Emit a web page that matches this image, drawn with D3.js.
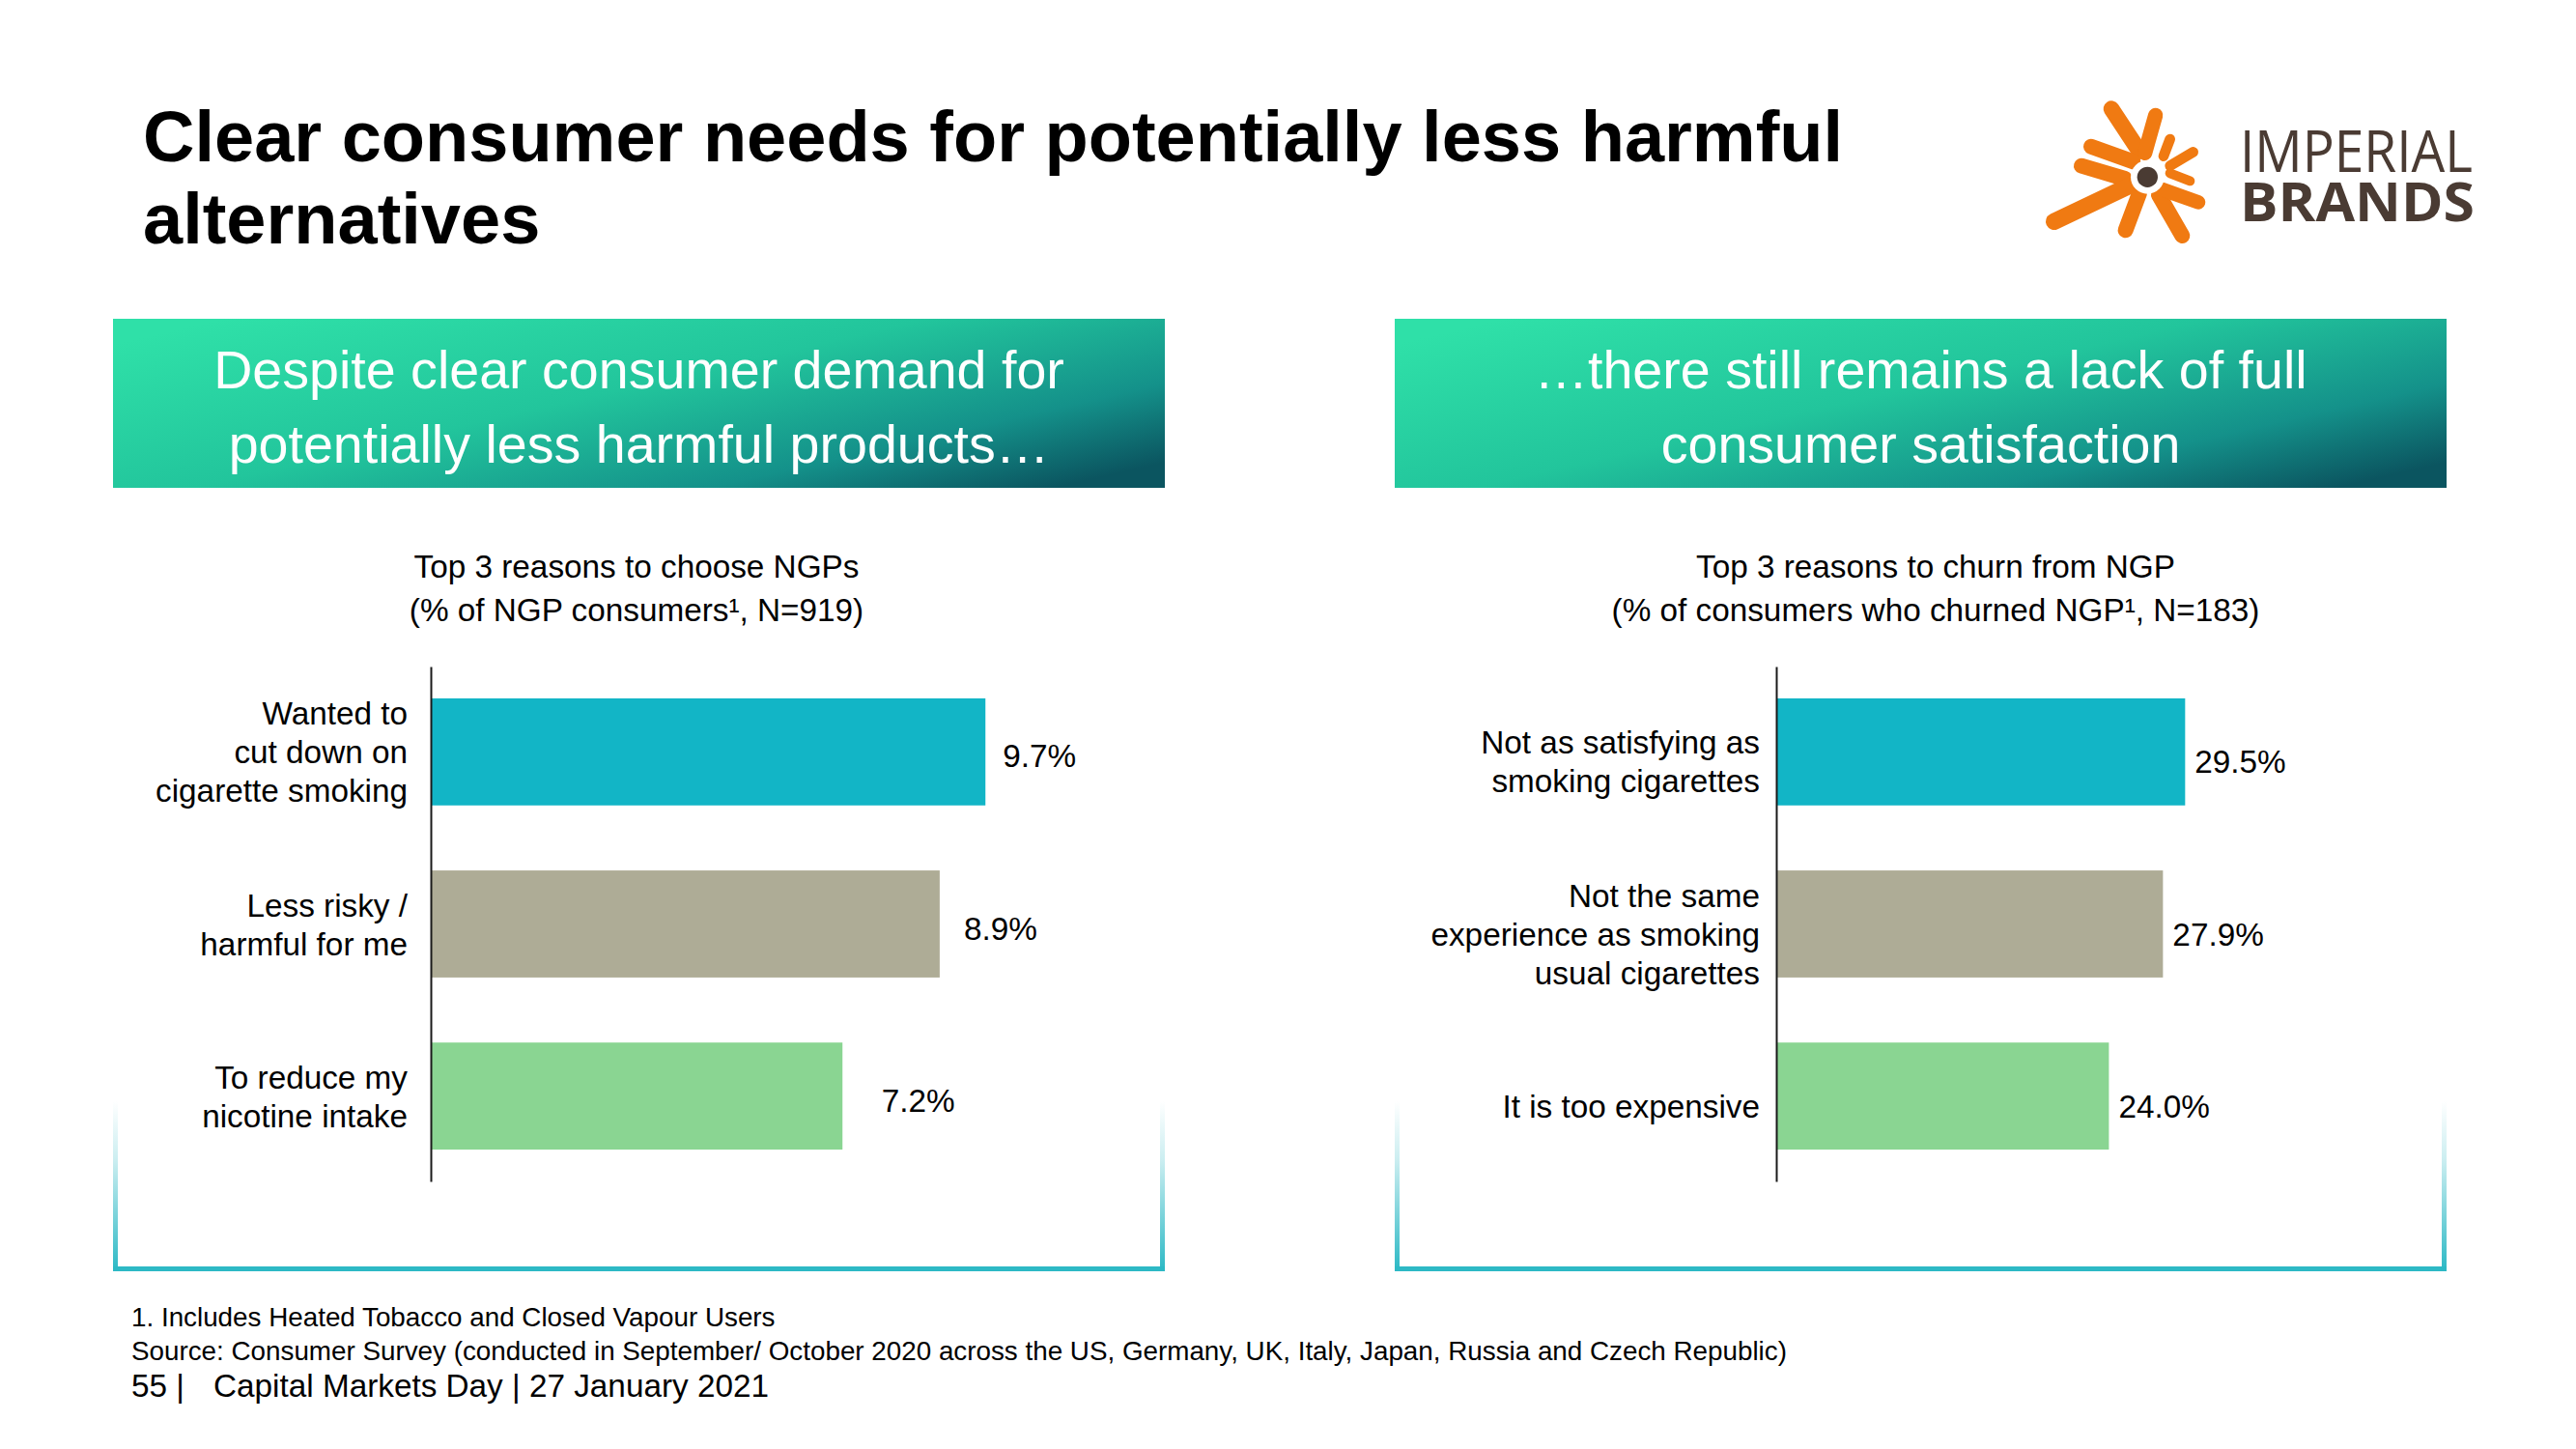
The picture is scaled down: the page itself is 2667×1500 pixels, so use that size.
<!DOCTYPE html>
<html>
<head>
<meta charset="utf-8">
<script src="https://cdn.jsdelivr.net/npm/d3@7"></script>
<style>
  html, body { margin: 0; padding: 0; background: #ffffff; }
  svg { display: block; }
  text { font-family: "Liberation Sans", Arial, Helvetica, sans-serif; }
</style>
</head>
<body>
<script>
// ---------------- DATA ----------------
const titleLines = ["Clear consumer needs for potentially less harmful", "alternatives"];
const leftHeader = ["Despite clear consumer demand for", "potentially less harmful products\u2026"];
const rightHeader = ["\u2026there still remains a lack of full", "consumer satisfaction"];
const leftSubtitle = ["Top 3 reasons to choose NGPs", "(% of NGP consumers\u00B9, N=919)"];
const rightSubtitle = ["Top 3 reasons to churn from NGP", "(% of consumers who churned NGP\u00B9, N=183)"];
const leftCategories = [
  ["Wanted to", "cut down on", "cigarette smoking"],
  ["Less risky /", "harmful for me"],
  ["To reduce my", "nicotine intake"]
];
const leftValues = [9.7, 8.9, 7.2];
const rightCategories = [
  ["Not as satisfying as", "smoking cigarettes"],
  ["Not the same", "experience as smoking", "usual cigarettes"],
  ["It is too expensive"]
];
const rightValues = [29.5, 27.9, 24.0];
const barColors = ["#12b5c6", "#aeac96", "#8ad592"];
const footnotes = [
  "1. Includes Heated Tobacco and Closed Vapour Users",
  "Source: Consumer Survey (conducted in September/ October 2020 across the US, Germany, UK, Italy, Japan, Russia and Czech Republic)"
];
const pageNumber = "55 |";
const footerText = "Capital Markets Day | 27 January 2021";

// ---------------- SETUP ----------------
const W = 2667, H = 1500;
const svg = d3.select("body").append("svg").attr("width", W).attr("height", H);
const defs = svg.append("defs");

const hg = defs.append("linearGradient").attr("id", "hdrGrad")
  .attr("x1", 0).attr("y1", 0.15).attr("x2", 1).attr("y2", 0.85);
hg.append("stop").attr("offset", 0).attr("stop-color", "#2fe0a8");
hg.append("stop").attr("offset", 0.45).attr("stop-color", "#22c59c");
hg.append("stop").attr("offset", 0.78).attr("stop-color", "#14918a");
hg.append("stop").attr("offset", 1).attr("stop-color", "#0b5560");

const fg = defs.append("linearGradient").attr("id", "sideGrad")
  .attr("x1", 0).attr("y1", 0).attr("x2", 0).attr("y2", 1);
fg.append("stop").attr("offset", 0).attr("stop-color", "#2db9c5").attr("stop-opacity", 0);
fg.append("stop").attr("offset", 0.35).attr("stop-color", "#2db9c5").attr("stop-opacity", 0.25);
fg.append("stop").attr("offset", 1).attr("stop-color", "#2db9c5").attr("stop-opacity", 1);

// ---------------- TITLE ----------------
const title = svg.append("text").attr("font-size", 74).attr("font-weight", "bold").attr("fill", "#000");
title.selectAll("tspan").data(titleLines).join("tspan")
  .attr("x", 148).attr("y", (d, i) => 167 + i * 85)
  .text(d => d);

// ---------------- LOGO ----------------
const logo = svg.append("g").attr("transform", "translate(2100,90) scale(0.3333)");
const rays = [
  [258, 68, 345, 200, 50], [395, 88, 362, 205, 46], [195, 185, 325, 232, 48],
  [165, 245, 300, 285, 48], [80, 418, 318, 305, 52], [302, 445, 345, 330, 48],
  [478, 462, 405, 335, 48], [528, 358, 415, 318, 44], [440, 162, 420, 215, 32],
  [512, 202, 440, 245, 32], [502, 292, 440, 268, 30]
];
logo.selectAll("line").data(rays).join("line")
  .attr("x1", d => d[0]).attr("y1", d => d[1]).attr("x2", d => d[2]).attr("y2", d => d[3])
  .attr("stroke", "#f07a12").attr("stroke-width", d => d[4]).attr("stroke-linecap", "round");
logo.append("circle").attr("cx", 370).attr("cy", 280).attr("r", 52).attr("fill", "#fff");
logo.append("circle").attr("cx", 370).attr("cy", 280).attr("r", 32).attr("fill", "#4a3b33");
const brand = svg.append("text").attr("fill", "#4a3b33")
  .style("font-family", "'Open Sans', 'Liberation Sans', sans-serif");
brand.append("tspan").attr("x", 2319).attr("y", 178).attr("font-size", 60)
  .attr("font-weight", 400).attr("textLength", 241).attr("lengthAdjust", "spacingAndGlyphs")
  .text("IMPERIAL");
brand.append("tspan").attr("x", 2319).attr("y", 229).attr("font-size", 56)
  .attr("font-weight", "bold").attr("textLength", 243).attr("lengthAdjust", "spacingAndGlyphs")
  .text("BRANDS");

// ---------------- PANELS ----------------
function panel(cfg) {
  const g = svg.append("g");
  // header box
  g.append("rect").attr("x", cfg.boxX).attr("y", 330).attr("width", 1089).attr("height", 175)
    .attr("fill", "url(#hdrGrad)");
  const ht = g.append("text").attr("text-anchor", "middle").attr("font-size", 55.6).attr("fill", "#fff");
  ht.selectAll("tspan").data(cfg.header).join("tspan")
    .attr("x", cfg.boxX + 1089 / 2).attr("y", (d, i) => 402 + i * 77)
    .text(d => d);
  // subtitle
  const st = g.append("text").attr("text-anchor", "middle").attr("font-size", 33.3).attr("fill", "#000");
  st.selectAll("tspan").data(cfg.subtitle).join("tspan")
    .attr("x", cfg.subX).attr("y", (d, i) => 598 + i * 45)
    .text(d => d);
  // frame
  g.append("rect").attr("x", cfg.boxX).attr("y", 1140).attr("width", 5).attr("height", 175)
    .attr("fill", "url(#sideGrad)");
  g.append("rect").attr("x", cfg.boxX + 1089 - 5).attr("y", 1140).attr("width", 5).attr("height", 175)
    .attr("fill", "url(#sideGrad)");
  g.append("rect").attr("x", cfg.boxX).attr("y", 1311).attr("width", 1089).attr("height", 5)
    .attr("fill", "#2db9c5");

  // chart
  const y = d3.scaleBand().domain(d3.range(cfg.values.length))
    .range([690, 1223]).paddingInner(0.378).paddingOuter(0.185);
  const x = d3.scaleLinear().domain([0, cfg.xMax]).range([cfg.axisX, cfg.axisX + cfg.xLen]);

  g.selectAll("rect.bar").data(cfg.values).join("rect").attr("class", "bar")
    .attr("x", x(0)).attr("y", (d, i) => y(i))
    .attr("width", d => x(d) - x(0)).attr("height", y.bandwidth())
    .attr("fill", (d, i) => barColors[i]);

  const axis = g.append("g").attr("transform", `translate(${cfg.axisX},0)`)
    .call(d3.axisLeft(y).tickSize(0).tickFormat(""));
  axis.select(".domain").attr("stroke", "#1a1a1a").attr("stroke-width", 2);

  // value labels
  g.selectAll("text.val").data(cfg.values).join("text").attr("class", "val")
    .attr("x", d => x(d) + cfg.labelGap(d))
    .attr("y", (d, i) => y(i) + y.bandwidth() / 2 + cfg.valDy)
    .attr("font-size", 33.3).attr("fill", "#000")
    .text(d => d3.format(".1f")(d) + "%");

  // category labels
  const lh = 40;
  cfg.categories.forEach((lines, i) => {
    const cy = y(i) + y.bandwidth() / 2 + cfg.catShift;
    const t = g.append("text").attr("text-anchor", "end")
      .attr("font-size", 33.3).attr("fill", "#000");
    lines.forEach((ln, j) => {
      t.append("tspan").attr("x", cfg.axisX - cfg.catGap)
        .attr("y", cy + 12 + (j - (lines.length - 1) / 2) * lh)
        .text(ln);
    });
  });
}

panel({
  boxX: 117, header: leftHeader, subtitle: leftSubtitle, subX: 659,
  values: leftValues, categories: leftCategories,
  axisX: 446, xMax: 10, xLen: 592,
  labelGap: v => 18 + (d3.max(leftValues) - v) * 9,
  valDy: 16, catShift: 0, catGap: 24
});
panel({
  boxX: 1444, header: rightHeader, subtitle: rightSubtitle, subX: 2004,
  values: rightValues, categories: rightCategories,
  axisX: 1839, xMax: 30, xLen: 430.5,
  labelGap: v => 10,
  valDy: 22, catShift: 10, catGap: 17
});

// ---------------- FOOTER ----------------
const fn = svg.append("text").attr("font-size", 27.8).attr("fill", "#000");
fn.selectAll("tspan").data(footnotes).join("tspan")
  .attr("x", 136).attr("y", (d, i) => 1373 + i * 35).text(d => d);
svg.append("text").attr("x", 136).attr("y", 1446).attr("font-size", 33.3).attr("fill", "#000").text(pageNumber);
svg.append("text").attr("x", 221).attr("y", 1446).attr("font-size", 33.3).attr("fill", "#000").text(footerText);
</script>
</body>
</html>
